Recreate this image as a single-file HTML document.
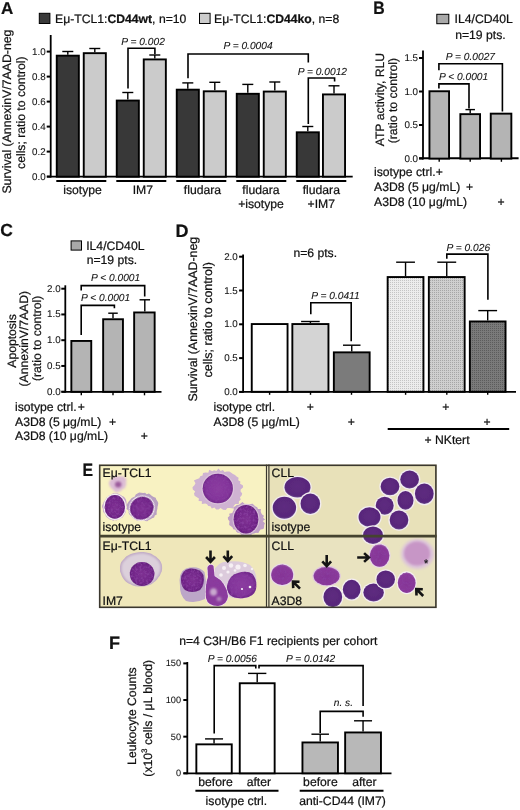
<!DOCTYPE html><html><head><meta charset="utf-8"><style>html,body{margin:0;padding:0;background:#fff;}svg{display:block;filter:blur(0.3px)}text{font-family:"Liberation Sans", sans-serif;fill:#111;stroke:#111;stroke-width:0.22px;text-rendering:geometricPrecision} text.t{stroke-width:0.08px}</style></head><body>
<svg width="520" height="810" viewBox="0 0 520 810">
<defs>
<pattern id="dl" width="2" height="2" patternUnits="userSpaceOnUse"><rect width="2" height="2" fill="#ececec"/><rect width="1" height="1" fill="#c4c4c4"/></pattern>
<pattern id="dm" width="2" height="2" patternUnits="userSpaceOnUse"><rect width="2" height="2" fill="#cfcfcf"/><rect width="1" height="1" fill="#a6a6a6"/></pattern>
<pattern id="dd" width="2" height="2" patternUnits="userSpaceOnUse"><rect width="2" height="2" fill="#7a7a7a"/><rect width="1" height="1" fill="#5c5c5c"/></pattern>
<filter id="blur1" x="-20%" y="-20%" width="140%" height="140%"><feGaussianBlur stdDeviation="0.8"/></filter>
<filter id="blur2" x="-20%" y="-20%" width="140%" height="140%"><feGaussianBlur stdDeviation="1.5"/></filter>
<filter id="blur05" x="-20%" y="-20%" width="140%" height="140%"><feGaussianBlur stdDeviation="0.5"/></filter>
<filter id="blur15" x="-30%" y="-30%" width="160%" height="160%"><feGaussianBlur stdDeviation="1.5"/></filter>
<radialGradient id="gN" cx="50%" cy="50%" r="50%"><stop offset="0" stop-color="#7e3192"/><stop offset="0.8" stop-color="#712688"/><stop offset="1" stop-color="#64207c"/></radialGradient>
<radialGradient id="gN2" cx="50%" cy="50%" r="50%"><stop offset="0" stop-color="#8c3da0"/><stop offset="0.8" stop-color="#82349a"/><stop offset="1" stop-color="#6f2888"/></radialGradient>
<radialGradient id="gC" cx="50%" cy="45%" r="55%"><stop offset="0" stop-color="#5e2b80"/><stop offset="0.85" stop-color="#58277a"/><stop offset="1" stop-color="#6a4a90"/></radialGradient>
<radialGradient id="gM" cx="50%" cy="55%" r="55%"><stop offset="0" stop-color="#853596"/><stop offset="0.85" stop-color="#8a3a9a"/><stop offset="1" stop-color="#a468b0"/></radialGradient>
<filter id="tex" x="-10%" y="-10%" width="120%" height="120%"><feTurbulence type="fractalNoise" baseFrequency="0.45" numOctaves="2" seed="7" result="n"/><feColorMatrix in="n" type="matrix" values="0 0 0 0 0.25  0 0 0 0 0.05  0 0 0 0 0.35  0 0 0 -2.2 1.25" result="dk"/><feComposite in="dk" in2="SourceGraphic" operator="in" result="d2"/><feMerge result="m"><feMergeNode in="SourceGraphic"/><feMergeNode in="d2"/></feMerge><feGaussianBlur in="m" stdDeviation="0.5"/></filter>
</defs>
<rect width="520" height="810" fill="#fff"/>
<text x="1.00" y="13.80" font-size="17" font-weight="bold">A</text>
<rect x="39.3" y="13.3" width="10.6" height="10.2" fill="#3a3a3a" stroke="#000" stroke-width="1"/>
<text x="55.00" y="22.90" font-size="12.2">Eμ-TCL1:<tspan font-weight="bold">CD44wt</tspan>, n=10</text>
<rect x="199.5" y="13.3" width="10.6" height="10.2" fill="#cccccc" stroke="#000" stroke-width="1"/>
<text x="214.00" y="22.90" font-size="12.2">Eμ-TCL1:<tspan font-weight="bold">CD44ko</tspan>, n=8</text>
<line x1="50.70" y1="35.00" x2="50.70" y2="177.50" stroke="#000" stroke-width="1.8"/>
<line x1="46.70" y1="176.60" x2="50.70" y2="176.60" stroke="#000" stroke-width="2.0"/>
<text x="45.60" y="179.60" font-size="9.8" text-anchor="end" class="t">0.0</text>
<line x1="46.70" y1="151.60" x2="50.70" y2="151.60" stroke="#000" stroke-width="2.0"/>
<text x="45.60" y="154.60" font-size="9.8" text-anchor="end" class="t">0.2</text>
<line x1="46.70" y1="126.60" x2="50.70" y2="126.60" stroke="#000" stroke-width="2.0"/>
<text x="45.60" y="129.60" font-size="9.8" text-anchor="end" class="t">0.4</text>
<line x1="46.70" y1="101.60" x2="50.70" y2="101.60" stroke="#000" stroke-width="2.0"/>
<text x="45.60" y="104.60" font-size="9.8" text-anchor="end" class="t">0.6</text>
<line x1="46.70" y1="76.60" x2="50.70" y2="76.60" stroke="#000" stroke-width="2.0"/>
<text x="45.60" y="79.60" font-size="9.8" text-anchor="end" class="t">0.8</text>
<line x1="46.70" y1="51.60" x2="50.70" y2="51.60" stroke="#000" stroke-width="2.0"/>
<text x="45.60" y="54.60" font-size="9.8" text-anchor="end" class="t">1.0</text>
<line x1="47.00" y1="176.70" x2="352.70" y2="176.70" stroke="#000" stroke-width="1.8"/>
<line x1="67.80" y1="51.50" x2="67.80" y2="54.72" stroke="#000" stroke-width="1.4"/>
<line x1="62.30" y1="51.50" x2="73.30" y2="51.50" stroke="#000" stroke-width="1.4"/>
<rect x="56.75" y="55.67" width="22.10" height="121.02" fill="#383838" stroke="#000" stroke-width="1.9"/>
<line x1="94.80" y1="48.50" x2="94.80" y2="52.22" stroke="#000" stroke-width="1.4"/>
<line x1="89.30" y1="48.50" x2="100.30" y2="48.50" stroke="#000" stroke-width="1.4"/>
<rect x="83.75" y="53.17" width="22.10" height="123.52" fill="#cbcbcb" stroke="#000" stroke-width="1.9"/>
<line x1="127.80" y1="92.50" x2="127.80" y2="99.60" stroke="#000" stroke-width="1.4"/>
<line x1="122.30" y1="92.50" x2="133.30" y2="92.50" stroke="#000" stroke-width="1.4"/>
<rect x="116.75" y="100.55" width="22.10" height="76.15" fill="#383838" stroke="#000" stroke-width="1.9"/>
<line x1="154.80" y1="55.00" x2="154.80" y2="58.47" stroke="#000" stroke-width="1.4"/>
<line x1="149.30" y1="55.00" x2="160.30" y2="55.00" stroke="#000" stroke-width="1.4"/>
<rect x="143.75" y="59.42" width="22.10" height="117.27" fill="#cbcbcb" stroke="#000" stroke-width="1.9"/>
<line x1="187.80" y1="82.90" x2="187.80" y2="88.72" stroke="#000" stroke-width="1.4"/>
<line x1="182.30" y1="82.90" x2="193.30" y2="82.90" stroke="#000" stroke-width="1.4"/>
<rect x="176.75" y="89.67" width="22.10" height="87.02" fill="#383838" stroke="#000" stroke-width="1.9"/>
<line x1="214.80" y1="82.30" x2="214.80" y2="90.35" stroke="#000" stroke-width="1.4"/>
<line x1="209.30" y1="82.30" x2="220.30" y2="82.30" stroke="#000" stroke-width="1.4"/>
<rect x="203.75" y="91.30" width="22.10" height="85.40" fill="#cbcbcb" stroke="#000" stroke-width="1.9"/>
<line x1="247.80" y1="84.40" x2="247.80" y2="92.85" stroke="#000" stroke-width="1.4"/>
<line x1="242.30" y1="84.40" x2="253.30" y2="84.40" stroke="#000" stroke-width="1.4"/>
<rect x="236.75" y="93.80" width="22.10" height="82.90" fill="#383838" stroke="#000" stroke-width="1.9"/>
<line x1="274.80" y1="82.00" x2="274.80" y2="90.60" stroke="#000" stroke-width="1.4"/>
<line x1="269.30" y1="82.00" x2="280.30" y2="82.00" stroke="#000" stroke-width="1.4"/>
<rect x="263.75" y="91.55" width="22.10" height="85.15" fill="#cbcbcb" stroke="#000" stroke-width="1.9"/>
<line x1="307.80" y1="126.50" x2="307.80" y2="131.35" stroke="#000" stroke-width="1.4"/>
<line x1="302.30" y1="126.50" x2="313.30" y2="126.50" stroke="#000" stroke-width="1.4"/>
<rect x="296.75" y="132.30" width="22.10" height="44.40" fill="#383838" stroke="#000" stroke-width="1.9"/>
<line x1="334.00" y1="85.80" x2="334.00" y2="93.47" stroke="#000" stroke-width="1.4"/>
<line x1="328.50" y1="85.80" x2="339.50" y2="85.80" stroke="#000" stroke-width="1.4"/>
<rect x="322.95" y="94.42" width="22.10" height="82.27" fill="#cbcbcb" stroke="#000" stroke-width="1.9"/>
<line x1="56.30" y1="180.90" x2="106.30" y2="180.90" stroke="#000" stroke-width="2.0"/>
<text x="82.50" y="193.90" font-size="12.2" text-anchor="middle">isotype</text>
<line x1="116.30" y1="180.90" x2="166.30" y2="180.90" stroke="#000" stroke-width="2.0"/>
<text x="142.80" y="193.90" font-size="12.2" text-anchor="middle">IM7</text>
<line x1="176.30" y1="180.90" x2="226.30" y2="180.90" stroke="#000" stroke-width="2.0"/>
<text x="202.50" y="193.90" font-size="12.2" text-anchor="middle">fludara</text>
<line x1="236.30" y1="180.90" x2="286.30" y2="180.90" stroke="#000" stroke-width="2.0"/>
<text x="261.00" y="193.90" font-size="12.2" text-anchor="middle">fludara</text>
<text x="261.00" y="207.50" font-size="12.2" text-anchor="middle">+isotype</text>
<line x1="296.30" y1="180.90" x2="346.30" y2="180.90" stroke="#000" stroke-width="2.0"/>
<text x="321.30" y="193.90" font-size="12.2" text-anchor="middle">fludara</text>
<text x="321.30" y="207.50" font-size="12.2" text-anchor="middle">+IM7</text>
<path d="M128,88.6 V48.3 H154.9 V54.2" fill="none" stroke="#000" stroke-width="1.6" stroke-linejoin="miter" stroke-linecap="butt"/>
<path d="M188,78.2 V54.0 H308.3 V62.6" fill="none" stroke="#000" stroke-width="1.6" stroke-linejoin="miter" stroke-linecap="butt"/>
<path d="M308.3,124.0 V78.0 H334.6 V81.6" fill="none" stroke="#000" stroke-width="1.6" stroke-linejoin="miter" stroke-linecap="butt"/>
<text x="121.30" y="45.00" font-size="10.2" font-style="italic" class="t">P = 0.002</text>
<text x="223.40" y="49.30" font-size="10.2" font-style="italic" class="t">P = 0.0004</text>
<text x="297.80" y="74.60" font-size="10.2" font-style="italic" class="t">P = 0.0012</text>
<text x="10.80" y="111.60" font-size="12.3" text-anchor="middle" transform="rotate(-90 10.80 111.60)">Survival (AnnexinV/7AAD-neg</text>
<text x="25.00" y="112.70" font-size="12.2" text-anchor="middle" transform="rotate(-90 25.00 112.70)">cells; ratio to control)</text>
<text x="0" y="0" font-size="18" font-weight="bold" transform="translate(373.2 13.6) scale(0.88 1)">B</text>
<rect x="436.8" y="14.3" width="12" height="9.4" fill="#a9a9a9" stroke="#000" stroke-width="1"/>
<text x="454.60" y="23.00" font-size="12.2">IL4/CD40L</text>
<text x="455.20" y="38.50" font-size="12.2">n=19 pts.</text>
<line x1="423.00" y1="50.50" x2="423.00" y2="159.40" stroke="#000" stroke-width="1.8"/>
<line x1="419.00" y1="158.50" x2="423.00" y2="158.50" stroke="#000" stroke-width="2.0"/>
<text x="418.00" y="161.50" font-size="9.8" text-anchor="end" class="t">0.0</text>
<line x1="419.00" y1="125.00" x2="423.00" y2="125.00" stroke="#000" stroke-width="2.0"/>
<text x="418.00" y="128.00" font-size="9.8" text-anchor="end" class="t">0.5</text>
<line x1="419.00" y1="91.50" x2="423.00" y2="91.50" stroke="#000" stroke-width="2.0"/>
<text x="418.00" y="94.50" font-size="9.8" text-anchor="end" class="t">1.0</text>
<line x1="419.00" y1="58.00" x2="423.00" y2="58.00" stroke="#000" stroke-width="2.0"/>
<text x="418.00" y="61.00" font-size="9.8" text-anchor="end" class="t">1.5</text>
<line x1="419.00" y1="158.20" x2="518.60" y2="158.20" stroke="#000" stroke-width="1.9"/>
<line x1="439.20" y1="158.60" x2="439.20" y2="161.80" stroke="#000" stroke-width="1.4"/>
<line x1="470.20" y1="158.60" x2="470.20" y2="161.80" stroke="#000" stroke-width="1.4"/>
<line x1="501.40" y1="158.60" x2="501.40" y2="161.80" stroke="#000" stroke-width="1.4"/>
<line x1="470.20" y1="109.60" x2="470.20" y2="113.20" stroke="#000" stroke-width="1.4"/>
<line x1="465.45" y1="109.60" x2="474.95" y2="109.60" stroke="#000" stroke-width="1.4"/>
<rect x="429.45" y="91.25" width="19.60" height="67.35" fill="#b4b4b4" stroke="#000" stroke-width="1.9"/>
<rect x="460.35" y="114.15" width="19.70" height="44.45" fill="#b4b4b4" stroke="#000" stroke-width="1.9"/>
<rect x="490.75" y="113.65" width="20.60" height="44.95" fill="#b4b4b4" stroke="#000" stroke-width="1.9"/>
<path d="M438.9,70.2 V63.8 H502.4 V111.4" fill="none" stroke="#000" stroke-width="1.6" stroke-linejoin="miter" stroke-linecap="butt"/>
<path d="M438.9,88.6 V83.9 H469.0 V108.6" fill="none" stroke="#000" stroke-width="1.6" stroke-linejoin="miter" stroke-linecap="butt"/>
<text x="445.80" y="60.30" font-size="10.2" font-style="italic" class="t">P = 0.0027</text>
<text x="439.00" y="79.90" font-size="10.2" font-style="italic" class="t">P &lt; 0.0001</text>
<text x="384.30" y="99.60" font-size="12.2" text-anchor="middle" transform="rotate(-90 384.30 99.60)">ATP activity, RLU</text>
<text x="397.30" y="100.60" font-size="12.2" text-anchor="middle" transform="rotate(-90 397.30 100.60)">(ratio to control)</text>
<text x="374.00" y="176.20" font-size="12.2">isotype ctrl.</text>
<text x="439.20" y="176.20" font-size="12.2" text-anchor="middle">+</text>
<text x="374.00" y="191.10" font-size="12.2">A3D8 (5 μg/mL)</text>
<text x="469.60" y="191.10" font-size="12.2" text-anchor="middle">+</text>
<text x="374.00" y="205.60" font-size="12.2">A3D8 (10 μg/mL)</text>
<text x="501.00" y="205.60" font-size="12.2" text-anchor="middle">+</text>
<text x="0.20" y="236.40" font-size="17.5" font-weight="bold">C</text>
<rect x="71.1" y="240.9" width="10.4" height="9.2" fill="#a9a9a9" stroke="#000" stroke-width="1"/>
<text x="86.20" y="249.60" font-size="12.2">IL4/CD40L</text>
<text x="86.70" y="264.30" font-size="12.2">n=19 pts.</text>
<line x1="65.30" y1="285.30" x2="65.30" y2="392.60" stroke="#000" stroke-width="1.8"/>
<line x1="61.30" y1="391.70" x2="65.30" y2="391.70" stroke="#000" stroke-width="2.0"/>
<text x="60.60" y="394.70" font-size="9.8" text-anchor="end" class="t">0.0</text>
<line x1="61.30" y1="365.95" x2="65.30" y2="365.95" stroke="#000" stroke-width="2.0"/>
<text x="60.60" y="368.95" font-size="9.8" text-anchor="end" class="t">0.5</text>
<line x1="61.30" y1="340.20" x2="65.30" y2="340.20" stroke="#000" stroke-width="2.0"/>
<text x="60.60" y="343.20" font-size="9.8" text-anchor="end" class="t">1.0</text>
<line x1="61.30" y1="314.45" x2="65.30" y2="314.45" stroke="#000" stroke-width="2.0"/>
<text x="60.60" y="317.45" font-size="9.8" text-anchor="end" class="t">1.5</text>
<line x1="61.30" y1="288.70" x2="65.30" y2="288.70" stroke="#000" stroke-width="2.0"/>
<text x="60.60" y="291.70" font-size="9.8" text-anchor="end" class="t">2.0</text>
<line x1="61.50" y1="391.80" x2="161.50" y2="391.80" stroke="#000" stroke-width="1.8"/>
<line x1="81.30" y1="391.80" x2="81.30" y2="395.30" stroke="#000" stroke-width="1.4"/>
<line x1="113.00" y1="391.80" x2="113.00" y2="395.30" stroke="#000" stroke-width="1.4"/>
<line x1="144.50" y1="391.80" x2="144.50" y2="395.30" stroke="#000" stroke-width="1.4"/>
<line x1="113.00" y1="313.20" x2="113.00" y2="318.30" stroke="#000" stroke-width="1.4"/>
<line x1="108.25" y1="313.20" x2="117.75" y2="313.20" stroke="#000" stroke-width="1.4"/>
<line x1="144.80" y1="299.80" x2="144.80" y2="311.50" stroke="#000" stroke-width="1.4"/>
<line x1="139.55" y1="299.80" x2="150.05" y2="299.80" stroke="#000" stroke-width="1.4"/>
<rect x="71.35" y="340.95" width="19.90" height="50.85" fill="#b4b4b4" stroke="#000" stroke-width="1.9"/>
<rect x="103.15" y="319.25" width="19.80" height="72.55" fill="#b4b4b4" stroke="#000" stroke-width="1.9"/>
<rect x="134.15" y="312.45" width="20.50" height="79.35" fill="#b4b4b4" stroke="#000" stroke-width="1.9"/>
<path d="M81.2,290.6 V285.6 H144.7 V296.6" fill="none" stroke="#000" stroke-width="1.6" stroke-linejoin="miter" stroke-linecap="butt"/>
<path d="M81.2,335.0 V305.4 H114.4 V308.2" fill="none" stroke="#000" stroke-width="1.6" stroke-linejoin="miter" stroke-linecap="butt"/>
<text x="91.00" y="281.20" font-size="10.2" font-style="italic" class="t">P &lt; 0.0001</text>
<text x="81.00" y="300.90" font-size="10.2" font-style="italic" class="t">P &lt; 0.0001</text>
<text x="15.80" y="341.00" font-size="12.2" text-anchor="middle" transform="rotate(-90 15.80 341.00)">Apoptosis</text>
<text x="28.40" y="338.70" font-size="12.2" text-anchor="middle" transform="rotate(-90 28.40 338.70)">(AnnexinV/7AAD)</text>
<text x="41.40" y="338.40" font-size="12.2" text-anchor="middle" transform="rotate(-90 41.40 338.40)">(ratio to control)</text>
<text x="15.00" y="410.90" font-size="12.2">isotype ctrl.</text>
<text x="81.30" y="410.90" font-size="12.2" text-anchor="middle">+</text>
<text x="15.00" y="425.90" font-size="12.2">A3D8 (5 μg/mL)</text>
<text x="112.50" y="425.90" font-size="12.2" text-anchor="middle">+</text>
<text x="15.00" y="439.70" font-size="12.2">A3D8 (10 μg/mL)</text>
<text x="144.40" y="439.70" font-size="12.2" text-anchor="middle">+</text>
<text x="175.60" y="236.80" font-size="18" font-weight="bold">D</text>
<line x1="243.10" y1="254.40" x2="243.10" y2="392.80" stroke="#000" stroke-width="1.8"/>
<line x1="239.10" y1="391.90" x2="243.10" y2="391.90" stroke="#000" stroke-width="2.0"/>
<text x="237.80" y="394.90" font-size="9.8" text-anchor="end" class="t">0.0</text>
<line x1="239.10" y1="358.10" x2="243.10" y2="358.10" stroke="#000" stroke-width="2.0"/>
<text x="237.80" y="361.10" font-size="9.8" text-anchor="end" class="t">0.5</text>
<line x1="239.10" y1="324.30" x2="243.10" y2="324.30" stroke="#000" stroke-width="2.0"/>
<text x="237.80" y="327.30" font-size="9.8" text-anchor="end" class="t">1.0</text>
<line x1="239.10" y1="290.50" x2="243.10" y2="290.50" stroke="#000" stroke-width="2.0"/>
<text x="237.80" y="293.50" font-size="9.8" text-anchor="end" class="t">1.5</text>
<line x1="239.10" y1="256.70" x2="243.10" y2="256.70" stroke="#000" stroke-width="2.0"/>
<text x="237.80" y="259.70" font-size="9.8" text-anchor="end" class="t">2.0</text>
<line x1="239.00" y1="391.80" x2="516.00" y2="391.80" stroke="#000" stroke-width="1.8"/>
<line x1="269.60" y1="391.80" x2="269.60" y2="394.80" stroke="#000" stroke-width="1.4"/>
<line x1="310.50" y1="391.80" x2="310.50" y2="394.80" stroke="#000" stroke-width="1.4"/>
<line x1="351.50" y1="391.80" x2="351.50" y2="394.80" stroke="#000" stroke-width="1.4"/>
<line x1="405.60" y1="391.80" x2="405.60" y2="394.80" stroke="#000" stroke-width="1.4"/>
<line x1="446.80" y1="391.80" x2="446.80" y2="394.80" stroke="#000" stroke-width="1.4"/>
<line x1="487.70" y1="391.80" x2="487.70" y2="394.80" stroke="#000" stroke-width="1.4"/>
<rect x="251.75" y="324.05" width="35.80" height="67.75" fill="#ffffff" stroke="#000" stroke-width="1.9"/>
<line x1="310.40" y1="321.50" x2="310.40" y2="323.10" stroke="#000" stroke-width="1.4"/>
<line x1="301.10" y1="321.50" x2="319.70" y2="321.50" stroke="#000" stroke-width="1.4"/>
<rect x="292.35" y="324.05" width="36.10" height="67.75" fill="#d4d4d4" stroke="#000" stroke-width="1.9"/>
<line x1="351.75" y1="345.20" x2="351.75" y2="351.40" stroke="#000" stroke-width="1.4"/>
<line x1="343.00" y1="345.20" x2="360.50" y2="345.20" stroke="#000" stroke-width="1.4"/>
<rect x="333.85" y="352.35" width="35.80" height="39.45" fill="#7b7b7b" stroke="#000" stroke-width="1.9"/>
<line x1="405.55" y1="262.20" x2="405.55" y2="276.10" stroke="#000" stroke-width="1.4"/>
<line x1="396.15" y1="262.20" x2="414.95" y2="262.20" stroke="#000" stroke-width="1.4"/>
<rect x="387.65" y="277.05" width="35.80" height="114.75" fill="url(#dl)" stroke="#000" stroke-width="1.9"/>
<line x1="446.75" y1="262.20" x2="446.75" y2="276.10" stroke="#000" stroke-width="1.4"/>
<line x1="437.30" y1="262.20" x2="456.20" y2="262.20" stroke="#000" stroke-width="1.4"/>
<rect x="428.85" y="277.05" width="35.80" height="114.75" fill="url(#dm)" stroke="#000" stroke-width="1.9"/>
<line x1="487.70" y1="310.60" x2="487.70" y2="320.50" stroke="#000" stroke-width="1.4"/>
<line x1="478.30" y1="310.60" x2="497.10" y2="310.60" stroke="#000" stroke-width="1.4"/>
<rect x="469.85" y="321.45" width="35.70" height="70.35" fill="url(#dd)" stroke="#000" stroke-width="1.9"/>
<path d="M310.8,314.2 V302.7 H351.2 V341.3" fill="none" stroke="#000" stroke-width="1.6" stroke-linejoin="miter" stroke-linecap="butt"/>
<path d="M446.8,258.8 V254.1 H487.9 V299.8" fill="none" stroke="#000" stroke-width="1.6" stroke-linejoin="miter" stroke-linecap="butt"/>
<text x="311.20" y="298.70" font-size="10.2" font-style="italic" class="t">P = 0.0411</text>
<text x="446.60" y="250.60" font-size="10.2" font-style="italic" class="t">P = 0.026</text>
<text x="293.40" y="256.70" font-size="12.2">n=6 pts.</text>
<text x="197.40" y="319.20" font-size="12.35" text-anchor="middle" transform="rotate(-90 197.40 319.20)">Survival (AnnexinV/7AAD-neg</text>
<text x="211.60" y="319.80" font-size="12.5" text-anchor="middle" transform="rotate(-90 211.60 319.80)">cells; ratio to control)</text>
<text x="213.50" y="411.10" font-size="12.2">isotype ctrl.</text>
<text x="310.40" y="411.10" font-size="12.2" text-anchor="middle">+</text>
<text x="445.70" y="411.40" font-size="12.2" text-anchor="middle">+</text>
<text x="213.50" y="426.00" font-size="12.2">A3D8 (5 μg/mL)</text>
<text x="351.30" y="426.00" font-size="12.2" text-anchor="middle">+</text>
<text x="487.00" y="426.00" font-size="12.2" text-anchor="middle">+</text>
<line x1="387.70" y1="429.00" x2="509.20" y2="429.00" stroke="#000" stroke-width="2.0"/>
<text x="447.00" y="443.80" font-size="12.2" text-anchor="middle">+ NKtert</text>
<text x="0" y="0" font-size="18" font-weight="bold" transform="translate(82.6 475.8) scale(0.88 1)">E</text>
<rect x="99.0" y="464.6" width="168.60000000000002" height="71.60000000000002" fill="#f8f2c2"/>
<rect x="267.6" y="464.6" width="169.0" height="71.60000000000002" fill="#e8e1b9"/>
<rect x="99.0" y="536.2" width="168.60000000000002" height="71.79999999999995" fill="#efe7ba"/>
<rect x="267.6" y="536.2" width="169.0" height="71.79999999999995" fill="#e9e3c0"/>
<clipPath id="cE"><rect x="99.0" y="464.6" width="337.6" height="143.39999999999998"/></clipPath>
<g clip-path="url(#cE)">
<path d="M126.3,483.6 L126.3,484.6 L125.5,485.5 L125.5,486.6 L125.0,487.5 L124.5,488.4 L123.0,488.4 L122.5,489.2 L121.6,489.6 L121.2,491.0 L120.1,491.5 L119.0,491.1 L117.9,492.6 L116.6,492.6 L115.5,491.9 L114.5,491.4 L113.8,490.2 L113.2,489.4 L111.9,489.2 L111.6,488.1 L110.7,487.5 L110.0,486.7 L109.8,485.6 L109.0,484.7 L109.1,483.6 L108.8,482.5 L109.7,481.5 L110.0,480.5 L110.8,479.7 L111.2,478.8 L112.1,478.2 L113.1,477.7 L113.5,476.4 L114.6,476.1 L115.7,476.0 L116.8,476.1 L117.9,476.5 L118.9,476.5 L120.0,476.3 L121.0,476.5 L122.6,475.9 L123.5,476.7 L125.0,476.9 L125.3,478.2 L126.5,478.9 L126.7,480.2 L125.7,481.6 L126.0,482.6 Z" fill="#dcbcd6" filter="url(#blur1)" opacity="1.0"/>
<ellipse cx="118.2" cy="484.6" rx="3.2" ry="3.0" fill="#9c5c9c" filter="url(#blur1)" opacity="1.0"/>
<path d="M126.2,506.9 L126.3,508.6 L125.9,510.3 L125.8,512.1 L125.1,513.6 L124.2,515.1 L123.2,516.5 L122.1,517.7 L120.6,518.3 L119.3,519.3 L117.8,519.6 L116.4,520.6 L114.8,520.1 L113.2,520.7 L111.7,519.9 L110.1,519.8 L108.8,518.7 L107.5,517.7 L106.1,516.8 L105.5,514.9 L104.7,513.5 L103.4,512.3 L103.0,510.5 L102.9,508.7 L102.1,506.9 L102.3,505.0 L103.3,503.4 L103.8,501.7 L104.8,500.4 L105.7,499.0 L106.6,497.6 L107.9,496.8 L108.9,495.4 L110.5,495.0 L111.8,494.3 L113.2,493.3 L114.8,493.5 L116.4,493.5 L117.9,493.6 L119.4,494.2 L120.9,495.0 L122.1,496.1 L123.8,496.7 L125.0,498.0 L125.9,499.6 L126.4,501.5 L126.5,503.4 L126.6,505.1 Z" fill="#c4a4c8" filter="url(#blur05)" opacity="1.0"/>
<ellipse cx="114.8" cy="506.9" rx="11.4" ry="13.1" fill="#f4eef2" filter="url(#blur05)" opacity="1.0"/>
<ellipse cx="114.8" cy="506.9" rx="10.2" ry="11.9" fill="url(#gN)" filter="url(#tex)"/>
<path d="M157.5,507.0 L157.4,508.8 L156.9,510.6 L156.6,512.4 L156.8,514.6 L154.8,515.6 L154.1,517.5 L152.1,518.2 L150.5,519.2 L148.8,520.1 L147.2,521.3 L145.1,521.1 L143.2,520.0 L141.4,520.5 L139.6,520.0 L137.3,520.8 L135.6,519.8 L133.9,518.7 L132.4,517.4 L131.1,515.9 L129.5,514.7 L128.6,512.9 L128.7,510.8 L126.7,509.1 L127.1,507.0 L126.7,504.9 L127.7,503.0 L128.9,501.3 L130.3,499.8 L131.5,498.3 L133.2,497.3 L134.9,496.5 L135.7,494.4 L137.4,493.6 L139.2,492.6 L141.3,492.8 L143.2,492.9 L145.1,492.7 L146.7,494.2 L148.9,493.6 L150.6,494.7 L152.0,495.9 L153.7,496.9 L155.7,497.8 L156.4,499.7 L157.5,501.3 L158.3,503.1 L158.0,505.1 Z" fill="#b9a0c2" filter="url(#blur05)" opacity="1.0"/>
<ellipse cx="141.8" cy="508.2" rx="13.2" ry="12.4" fill="#f4eef2" filter="url(#blur05)" opacity="1.0" transform="rotate(-35 141.8 508.2)"/>
<ellipse cx="141.8" cy="508.2" rx="12.0" ry="11.2" fill="url(#gN)" filter="url(#tex)" transform="rotate(-35 141.8 508.2)"/>
<path d="M240.7,489.4 L240.5,491.3 L242.2,493.5 L241.6,495.5 L240.0,497.2 L240.7,499.8 L238.9,501.3 L238.8,503.9 L235.4,504.1 L233.8,505.7 L233.2,508.6 L229.8,507.9 L227.4,508.1 L225.7,510.1 L223.1,509.7 L220.6,508.1 L218.5,509.4 L216.2,509.5 L214.4,507.6 L211.8,508.6 L210.5,506.3 L208.3,506.0 L207.1,504.3 L205.3,503.4 L201.8,504.0 L201.9,501.3 L198.6,501.0 L198.9,498.5 L196.9,497.2 L194.6,495.7 L194.0,493.6 L195.2,491.4 L192.8,489.4 L192.5,487.2 L194.4,485.2 L195.5,483.3 L193.9,480.5 L196.6,479.2 L199.3,478.2 L200.2,476.3 L202.6,475.6 L203.0,473.0 L205.6,472.6 L208.3,472.7 L209.2,469.8 L212.2,471.3 L214.1,470.3 L216.4,470.9 L218.5,468.6 L220.6,470.9 L222.9,470.0 L224.6,472.0 L227.0,471.4 L229.4,471.5 L231.2,472.8 L233.0,474.0 L235.0,475.0 L236.6,476.4 L238.6,477.7 L238.2,480.2 L240.4,481.5 L240.1,483.7 L242.8,485.2 L243.2,487.3 Z" fill="#cfb3d2" filter="url(#blur05)" opacity="1.0"/>
<ellipse cx="217.8" cy="488.5" rx="16.3" ry="15.9" fill="#dcc4dc" filter="url(#blur05)" opacity="1.0"/>
<ellipse cx="217.8" cy="488.5" rx="15.1" ry="14.7" fill="url(#gN2)" filter="url(#tex)"/>
<path d="M265.2,519.4 L262.7,521.0 L265.0,523.2 L264.2,525.0 L264.1,527.1 L263.5,529.1 L260.6,529.6 L259.4,531.0 L258.4,532.9 L255.9,532.8 L254.1,533.4 L252.2,533.8 L250.8,535.7 L248.7,536.0 L246.7,535.9 L244.9,534.4 L242.6,535.9 L241.0,534.4 L239.5,533.1 L237.6,532.7 L236.1,531.5 L235.5,529.7 L233.2,529.2 L232.6,527.5 L231.0,526.3 L229.2,525.0 L229.3,523.0 L229.5,521.2 L228.1,519.4 L227.8,517.5 L229.7,515.8 L229.1,513.8 L232.3,513.1 L232.9,511.5 L233.8,510.0 L233.4,507.2 L235.3,506.3 L236.8,504.9 L239.0,504.8 L240.6,503.6 L242.4,502.1 L244.8,503.9 L246.7,503.9 L248.5,504.5 L250.6,504.0 L252.7,503.8 L254.1,505.3 L255.6,506.5 L257.2,507.3 L258.0,509.1 L260.9,509.1 L260.7,511.4 L261.2,513.0 L262.1,514.5 L264.0,515.8 L263.1,517.7 Z" fill="#c0a0c7" filter="url(#blur05)" opacity="1.0"/>
<ellipse cx="246.0" cy="519.2" rx="13.5" ry="15.5" fill="#d8c0d8" filter="url(#blur05)" opacity="1.0"/>
<ellipse cx="246.0" cy="519.2" rx="12.3" ry="14.3" fill="url(#gN)" filter="url(#tex)"/>
<ellipse cx="297.5" cy="487.3" rx="14.3" ry="11.5" fill="#f2ecf0" filter="url(#blur05)" opacity="1.0"/>
<ellipse cx="297.5" cy="487.3" rx="13.0" ry="10.2" fill="url(#gC)" filter="url(#blur05)"/>
<ellipse cx="284.4" cy="507.8" rx="13.0" ry="12.3" fill="#f2ecf0" filter="url(#blur05)" opacity="1.0"/>
<ellipse cx="284.4" cy="507.8" rx="11.7" ry="11.0" fill="url(#gC)" filter="url(#blur05)"/>
<ellipse cx="310.3" cy="503.7" rx="11.1" ry="11.5" fill="#f2ecf0" filter="url(#blur05)" opacity="1.0"/>
<ellipse cx="310.3" cy="503.7" rx="9.8" ry="10.2" fill="url(#gC)" filter="url(#blur05)"/>
<ellipse cx="390.0" cy="486.5" rx="10.7" ry="10.1" fill="#f2ecf0" filter="url(#blur05)" opacity="1.0"/>
<ellipse cx="390.0" cy="486.5" rx="9.4" ry="8.8" fill="url(#gC)" filter="url(#blur05)"/>
<ellipse cx="409.6" cy="479.5" rx="10.7" ry="10.3" fill="#f2ecf0" filter="url(#blur05)" opacity="1.0"/>
<ellipse cx="409.6" cy="479.5" rx="9.4" ry="9.0" fill="url(#gC)" filter="url(#blur05)"/>
<ellipse cx="424.3" cy="493.8" rx="10.7" ry="11.5" fill="#f2ecf0" filter="url(#blur05)" opacity="1.0"/>
<ellipse cx="424.3" cy="493.8" rx="9.4" ry="10.2" fill="url(#gC)" filter="url(#blur05)"/>
<ellipse cx="405.5" cy="500.4" rx="9.3" ry="10.7" fill="#f2ecf0" filter="url(#blur05)" opacity="1.0"/>
<ellipse cx="405.5" cy="500.4" rx="8.0" ry="9.4" fill="url(#gC)" filter="url(#blur05)"/>
<ellipse cx="384.7" cy="505.7" rx="10.3" ry="10.3" fill="#f2ecf0" filter="url(#blur05)" opacity="1.0"/>
<ellipse cx="384.7" cy="505.7" rx="9.0" ry="9.0" fill="url(#gC)" filter="url(#blur05)"/>
<ellipse cx="369.5" cy="517.1" rx="12.3" ry="11.1" fill="#f2ecf0" filter="url(#blur05)" opacity="1.0"/>
<ellipse cx="369.5" cy="517.1" rx="11.0" ry="9.8" fill="url(#gC)" filter="url(#blur05)"/>
<ellipse cx="399.0" cy="520.0" rx="10.7" ry="10.7" fill="#f2ecf0" filter="url(#blur05)" opacity="1.0"/>
<ellipse cx="399.0" cy="520.0" rx="9.4" ry="9.4" fill="url(#gC)" filter="url(#blur05)"/>
<ellipse cx="373.0" cy="535.2" rx="11.3" ry="10.0" fill="#f2ecf0" filter="url(#blur05)" opacity="1.0"/>
<ellipse cx="373.0" cy="535.2" rx="10.0" ry="8.7" fill="url(#gC)" filter="url(#blur05)"/>
<path d="M162.1,569.1 L161.7,571.4 L160.7,573.6 L159.8,575.7 L158.3,577.6 L157.0,579.5 L155.3,581.3 L153.3,582.8 L151.3,584.3 L148.8,585.2 L146.3,586.1 L143.6,586.5 L140.9,586.4 L138.2,586.6 L135.5,586.2 L132.9,585.5 L130.5,584.3 L128.1,583.2 L126.0,581.7 L124.3,579.9 L122.9,577.9 L121.7,575.8 L120.9,573.6 L120.1,571.4 L120.0,569.1 L120.0,566.8 L120.4,564.4 L121.1,562.2 L122.7,560.2 L124.4,558.4 L126.1,556.6 L128.4,555.3 L130.7,554.1 L133.2,553.3 L135.7,552.7 L138.3,552.2 L140.9,551.9 L143.6,551.9 L146.2,552.4 L148.8,552.9 L151.3,553.8 L153.5,555.2 L155.9,556.4 L157.7,558.2 L159.6,560.0 L160.8,562.1 L161.8,564.4 L162.1,566.7 Z" fill="#bfa8c4" filter="url(#blur05)" opacity="1.0"/>
<path d="M160.4,569.1 L160.1,571.2 L159.2,573.2 L158.4,575.1 L157.0,576.8 L155.7,578.6 L154.2,580.2 L152.3,581.5 L150.5,582.9 L148.2,583.7 L145.9,584.5 L143.4,585.0 L140.9,584.9 L138.4,585.0 L135.9,584.6 L133.5,584.0 L131.3,583.0 L129.1,581.9 L127.1,580.6 L125.6,578.9 L124.3,577.1 L123.2,575.2 L122.5,573.2 L121.7,571.2 L121.6,569.1 L121.6,567.0 L121.9,564.9 L122.6,562.8 L124.1,561.0 L125.7,559.4 L127.3,557.7 L129.3,556.5 L131.5,555.5 L133.8,554.7 L136.1,554.2 L138.5,553.7 L140.9,553.4 L143.4,553.5 L145.8,553.9 L148.2,554.4 L150.5,555.2 L152.5,556.5 L154.7,557.6 L156.4,559.2 L158.1,560.8 L159.3,562.8 L160.2,564.8 L160.5,566.9 Z" fill="#dcd0db" filter="url(#blur1)" opacity="1.0"/>
<ellipse cx="142.1" cy="574.0" rx="12.3" ry="11.9" fill="url(#gN)" filter="url(#tex)"/>
<path d="M180,586 Q178,572 186,568.5 Q198,565 204.5,572 Q207.5,586 205,599 Q196,603.5 186,601 Q179.5,595 180,586 Z" fill="#bca6c8" filter="url(#blur05)"/>
<path d="M181,580 Q181,570 190,568.5 Q200,568 203.5,575 Q205,585 200,590 Q192,594 185,590 Q181,586 181,580 Z" fill="url(#gN)" filter="url(#tex)"/>
<path d="M214,572 Q216,562 228,561.5 Q242,560 250,565 Q257,571 256.5,582 Q256,594 248,597.5 Q236,600 226,596 Q216,590 214,580 Z" fill="#dccbdc" filter="url(#blur05)"/>
<path d="M227,586 Q229,575 238,573 Q247,570 252.5,574 Q257.5,580 256,589 Q254,597 244,598 Q235,599 230,595 Q226.5,591 227,586 Z" fill="url(#gN2)" filter="url(#tex)"/>
<circle cx="224" cy="568" r="2.0" fill="#f6f0f4" filter="url(#blur05)"/>
<circle cx="231" cy="565.5" r="2.2" fill="#f6f0f4" filter="url(#blur05)"/>
<circle cx="238" cy="567" r="2.6" fill="#f6f0f4" filter="url(#blur05)"/>
<circle cx="245" cy="565.5" r="1.8" fill="#f6f0f4" filter="url(#blur05)"/>
<circle cx="221" cy="575" r="1.8" fill="#f6f0f4" filter="url(#blur05)"/>
<circle cx="228" cy="572" r="1.6" fill="#f6f0f4" filter="url(#blur05)"/>
<circle cx="235" cy="570.5" r="1.3" fill="#f6f0f4" filter="url(#blur05)"/>
<circle cx="250" cy="587" r="1.3" fill="#f6f0f4" filter="url(#blur05)"/>
<circle cx="242" cy="589" r="1.1" fill="#f6f0f4" filter="url(#blur05)"/>
<circle cx="219" cy="582" r="1.4" fill="#f6f0f4" filter="url(#blur05)"/>
<circle cx="252" cy="569" r="1.2" fill="#f6f0f4" filter="url(#blur05)"/>
<path d="M207.5,567 Q210,563 213.5,566 L214.5,576 Q226,582 228,596 Q227,605 218,606 Q208,606 206,598 Q205,585 208,577 Z" fill="none" stroke="#efe4ee" stroke-width="1.4" filter="url(#blur05)"/>
<path d="M207.5,567 Q210,563 213.5,566 L214.5,576 Q226,582 228,596 Q227,605 218,606 Q208,606 206,598 Q205,585 208,577 Z" fill="#8b3a9d" filter="url(#tex)"/>
<ellipse cx="213.5" cy="592.0" rx="3.5" ry="3.8" fill="#c9a9cf" filter="url(#blur1)" opacity="1.0"/>
<ellipse cx="219.0" cy="599.0" rx="2.5" ry="2.2" fill="#b487bd" filter="url(#blur1)" opacity="1.0"/>
<ellipse cx="282.2" cy="574.8" rx="12.2" ry="11.4" fill="#e8dce8" filter="url(#blur05)" opacity="1.0"/>
<ellipse cx="282.2" cy="574.8" rx="11.0" ry="10.2" fill="url(#gM)" filter="url(#tex)"/>
<ellipse cx="326.6" cy="576.0" rx="14.2" ry="10.4" fill="#e0c8e0" filter="url(#blur05)" opacity="1.0"/>
<ellipse cx="326.6" cy="576.0" rx="13.0" ry="9.2" fill="url(#gM)" filter="url(#tex)"/>
<ellipse cx="332.8" cy="597.0" rx="10.6" ry="11.4" fill="#f4eef2" filter="url(#blur05)" opacity="1.0"/>
<ellipse cx="332.8" cy="597.0" rx="9.4" ry="10.2" fill="url(#gC)" filter="url(#blur05)"/>
<ellipse cx="351.7" cy="589.6" rx="10.1" ry="11.0" fill="#f4eef2" filter="url(#blur05)" opacity="1.0"/>
<ellipse cx="351.7" cy="589.6" rx="8.9" ry="9.8" fill="url(#gC)" filter="url(#blur05)"/>
<ellipse cx="373.6" cy="592.5" rx="11.5" ry="10.1" fill="#f4eef2" filter="url(#blur05)" opacity="1.0"/>
<ellipse cx="373.6" cy="592.5" rx="10.3" ry="8.9" fill="url(#gC)" filter="url(#blur05)"/>
<ellipse cx="385.7" cy="579.4" rx="10.5" ry="10.1" fill="#f4eef2" filter="url(#blur05)" opacity="1.0"/>
<ellipse cx="385.7" cy="579.4" rx="9.3" ry="8.9" fill="url(#gC)" filter="url(#blur05)"/>
<ellipse cx="379.6" cy="555.6" rx="11.0" ry="12.4" fill="#e8d8e8" filter="url(#blur05)" opacity="1.0"/>
<ellipse cx="379.6" cy="555.6" rx="9.8" ry="11.2" fill="url(#gM)" filter="url(#tex)"/>
<ellipse cx="406.7" cy="582.7" rx="10.1" ry="11.5" fill="#f4eef2" filter="url(#blur05)" opacity="1.0"/>
<ellipse cx="406.7" cy="582.7" rx="8.9" ry="10.3" fill="url(#gM)" filter="url(#tex)"/>
<ellipse cx="417.5" cy="554.0" rx="16.5" ry="15.0" fill="#dcc3da" filter="url(#blur15)" opacity="1.0"/>
<ellipse cx="417.0" cy="553.5" rx="13.0" ry="12.0" fill="#c796c6" filter="url(#blur1)" opacity="1.0"/>
</g>
<rect x="99.7" y="465.3" width="336.20000000000005" height="141.99999999999997" fill="none" stroke="#3a372e" stroke-width="1.6"/>
<line x1="266.50" y1="464.60" x2="266.50" y2="608.00" stroke="#3a372e" stroke-width="1.2"/>
<line x1="268.90" y1="464.60" x2="268.90" y2="608.00" stroke="#3a372e" stroke-width="1.2"/>
<line x1="99.00" y1="536.20" x2="436.60" y2="536.20" stroke="#45432f" stroke-width="2.8"/>
<path d="M210.5,550.5 L210.5,561.8 M206.1,557.0 L210.5,561.8 L214.9,557.0" fill="none" stroke="#141414" stroke-width="2.6" stroke-linejoin="miter"/>
<path d="M227.8,550.5 L227.8,561.0 M223.4,556.2 L227.8,561.0 L232.2,556.2" fill="none" stroke="#141414" stroke-width="2.6" stroke-linejoin="miter"/>
<path d="M300.0,588.6 L293.0,581.6 M299.5,581.8 L293.0,581.6 L293.2,588.1" fill="none" stroke="#141414" stroke-width="2.6" stroke-linejoin="miter"/>
<path d="M326.7,555.0 L326.7,566.2 M322.3,561.4 L326.7,566.2 L331.1,561.4" fill="none" stroke="#141414" stroke-width="2.6" stroke-linejoin="miter"/>
<path d="M357.2,557.5 L368.9,557.5 M364.1,561.9 L368.9,557.5 L364.1,553.1" fill="none" stroke="#141414" stroke-width="2.6" stroke-linejoin="miter"/>
<path d="M423.2,596.0 L416.3,589.0 M422.8,589.3 L416.3,589.0 L416.5,595.5" fill="none" stroke="#141414" stroke-width="2.6" stroke-linejoin="miter"/>
<text x="424.00" y="567.00" font-size="11">*</text>
<text x="102.50" y="476.80" font-size="12.2">Eμ-TCL1</text>
<text x="102.50" y="530.80" font-size="12.2">isotype</text>
<text x="271.60" y="476.60" font-size="12.2">CLL</text>
<text x="271.60" y="530.80" font-size="12.2">isotype</text>
<text x="102.50" y="549.90" font-size="12.2">Eμ-TCL1</text>
<text x="102.50" y="604.60" font-size="12.2">IM7</text>
<text x="271.60" y="550.30" font-size="12.2">CLL</text>
<text x="271.60" y="604.60" font-size="12.2">A3D8</text>
<text x="0" y="0" font-size="18" font-weight="bold" transform="translate(108.9 648.6) scale(1.0 1)">F</text>
<text x="179.20" y="644.60" font-size="12.2">n=4 C3H/B6 F1 recipients per cohort</text>
<line x1="187.30" y1="662.00" x2="187.30" y2="774.20" stroke="#000" stroke-width="1.8"/>
<line x1="183.30" y1="773.30" x2="187.30" y2="773.30" stroke="#000" stroke-width="2.0"/>
<text x="181.00" y="776.30" font-size="9.2" text-anchor="end" class="t">0</text>
<line x1="183.30" y1="736.66" x2="187.30" y2="736.66" stroke="#000" stroke-width="2.0"/>
<text x="181.00" y="739.66" font-size="9.2" text-anchor="end" class="t">50</text>
<line x1="183.30" y1="700.03" x2="187.30" y2="700.03" stroke="#000" stroke-width="2.0"/>
<text x="181.00" y="703.03" font-size="9.2" text-anchor="end" class="t">100</text>
<line x1="183.30" y1="663.39" x2="187.30" y2="663.39" stroke="#000" stroke-width="2.0"/>
<text x="181.00" y="666.39" font-size="9.2" text-anchor="end" class="t">150</text>
<line x1="183.50" y1="773.30" x2="391.50" y2="773.30" stroke="#000" stroke-width="1.8"/>
<line x1="214.05" y1="738.90" x2="214.05" y2="743.40" stroke="#000" stroke-width="1.4"/>
<line x1="205.05" y1="738.90" x2="223.05" y2="738.90" stroke="#000" stroke-width="1.4"/>
<rect x="196.35" y="744.35" width="35.40" height="28.95" fill="#ffffff" stroke="#000" stroke-width="1.9"/>
<line x1="257.20" y1="673.40" x2="257.20" y2="682.30" stroke="#000" stroke-width="1.4"/>
<line x1="248.05" y1="673.40" x2="266.35" y2="673.40" stroke="#000" stroke-width="1.4"/>
<rect x="239.75" y="683.25" width="34.90" height="90.05" fill="#ffffff" stroke="#000" stroke-width="1.9"/>
<line x1="320.20" y1="734.20" x2="320.20" y2="741.50" stroke="#000" stroke-width="1.4"/>
<line x1="311.45" y1="734.20" x2="328.95" y2="734.20" stroke="#000" stroke-width="1.4"/>
<rect x="302.45" y="742.45" width="35.50" height="30.85" fill="#b8b8b8" stroke="#000" stroke-width="1.9"/>
<line x1="363.05" y1="720.80" x2="363.05" y2="731.50" stroke="#000" stroke-width="1.4"/>
<line x1="354.05" y1="720.80" x2="372.05" y2="720.80" stroke="#000" stroke-width="1.4"/>
<rect x="345.15" y="732.45" width="35.80" height="40.85" fill="#b8b8b8" stroke="#000" stroke-width="1.9"/>
<path d="M214.2,733.5 V665.6 H255.8 V668.6" fill="none" stroke="#000" stroke-width="1.6" stroke-linejoin="miter" stroke-linecap="butt"/>
<path d="M259.0,668.6 V665.6 H363.1 V706.0" fill="none" stroke="#000" stroke-width="1.6" stroke-linejoin="miter" stroke-linecap="butt"/>
<path d="M320.2,732.9 V711.4 H363.1 V716.7" fill="none" stroke="#000" stroke-width="1.6" stroke-linejoin="miter" stroke-linecap="butt"/>
<text x="207.70" y="662.10" font-size="10.2" font-style="italic" class="t">P = 0.0056</text>
<text x="286.00" y="662.10" font-size="10.2" font-style="italic" class="t">P = 0.0142</text>
<text x="333.80" y="706.00" font-size="10.2" font-style="italic" class="t">n. s.</text>
<text x="215.50" y="785.80" font-size="12.2" text-anchor="middle">before</text>
<text x="258.90" y="785.80" font-size="12.2" text-anchor="middle">after</text>
<text x="320.40" y="785.80" font-size="12.2" text-anchor="middle">before</text>
<text x="364.40" y="785.80" font-size="12.2" text-anchor="middle">after</text>
<line x1="195.40" y1="790.70" x2="278.50" y2="790.70" stroke="#000" stroke-width="2.0"/>
<line x1="299.70" y1="790.70" x2="383.50" y2="790.70" stroke="#000" stroke-width="2.0"/>
<text x="236.40" y="804.50" font-size="12.2" text-anchor="middle">isotype ctrl.</text>
<text x="342.50" y="804.50" font-size="12.2" text-anchor="middle">anti-CD44 (IM7)</text>
<text x="135.70" y="716.10" font-size="12.2" text-anchor="middle" transform="rotate(-90 135.70 716.10)">Leukocyte Counts</text>
<text x="152.00" y="718.30" font-size="12.2" text-anchor="middle" transform="rotate(-90 152.00 718.30)">(x10<tspan font-size="8" dy="-4.5">3</tspan><tspan dy="4.5"> cells / μL blood)</tspan></text>
</svg></body></html>
